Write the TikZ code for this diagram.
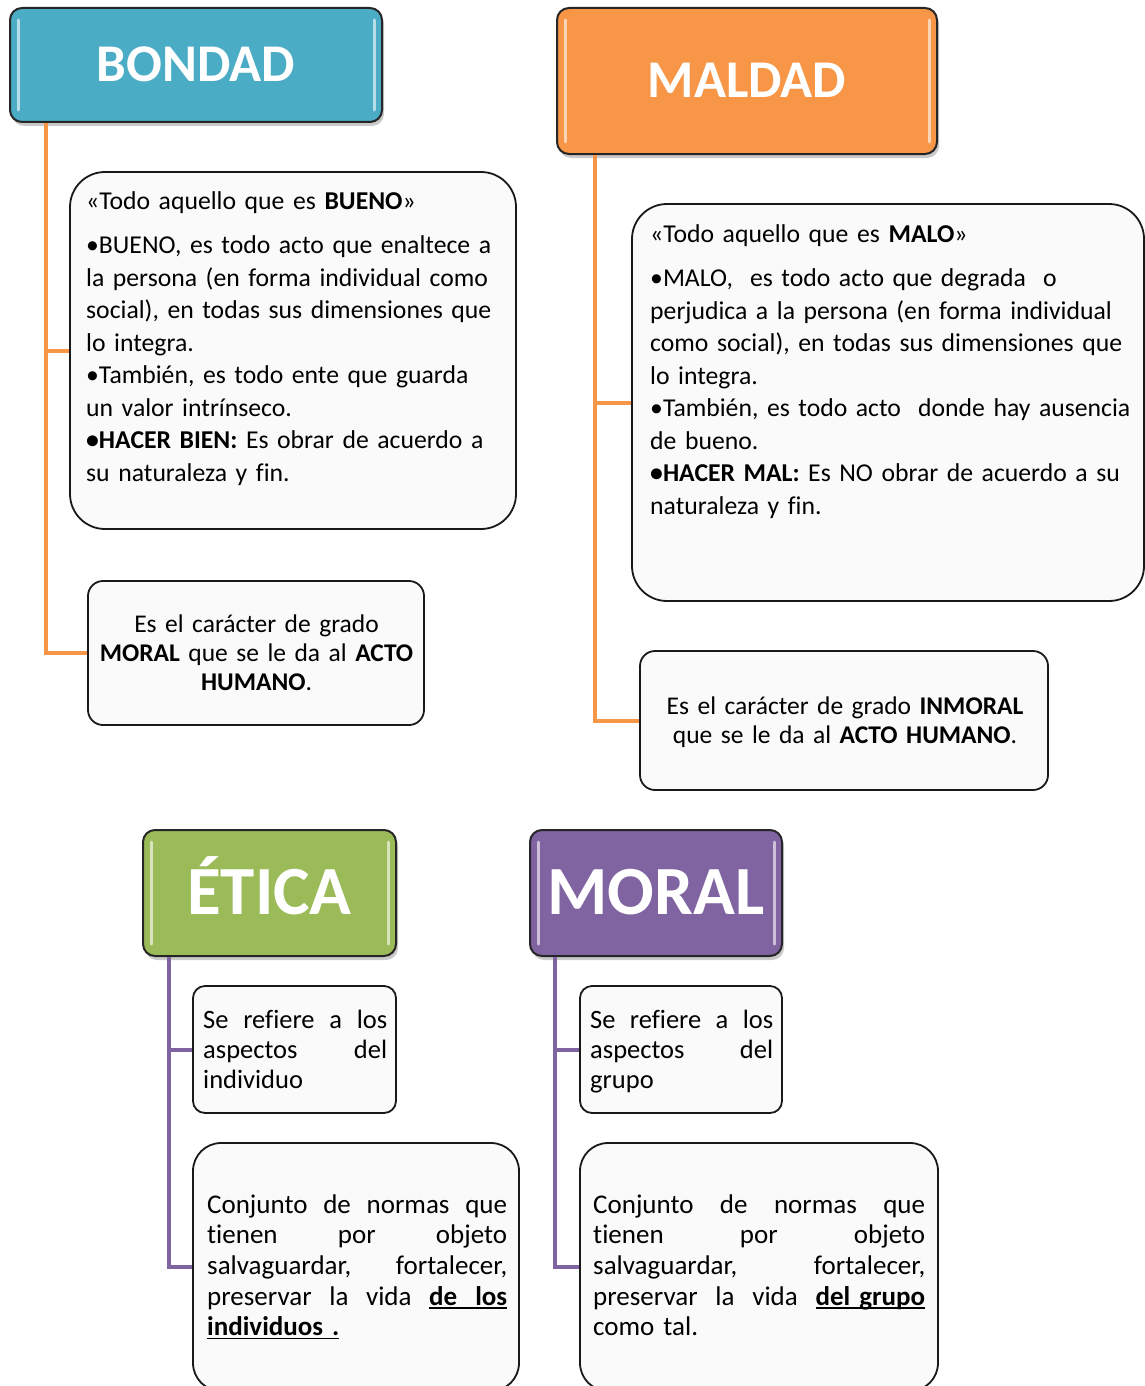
\documentclass[tikz,border=0pt]{standalone}
\usepackage{fontspec}
\setmainfont{Carlito}[Ligatures={NoCommon}]
\usetikzlibrary{shadows}
\definecolor{cblue}{HTML}{4BACC6}
\definecolor{corange}{HTML}{F79646}
\definecolor{cgreen}{HTML}{9BBB59}
\definecolor{cpurple}{HTML}{8064A2}
\definecolor{boxfill}{HTML}{FAFAFA}
\newcommand{\uln}[1]{\leavevmode\setbox0\hbox{#1}\rlap{\rule[-3.5pt]{\wd0}{1.6pt}}\box0}
\newcommand{\jline}[2]{\leavevmode\hbox to #1{#2}}
\begin{document}
\begin{tikzpicture}[x=1pt,y=-1pt,
  hdr/.style={draw=black!85, line width=2pt, rounded corners=12pt, text=white,
    drop shadow={shadow xshift=2pt, shadow yshift=-4pt, opacity=0.35, fill=black!60}},
  hdrsmall/.style={hdr, font=\fontsize{53}{60}\selectfont\bfseries, text height=33.2pt, text depth=0pt},
  hdrbig/.style={hdr, font=\fontsize{69}{76}\selectfont\bfseries, text height=43pt, text depth=0pt},
  strip/.style={line width=3pt, white, opacity=0.6, line cap=round},
  tbox/.style={draw=black!90, line width=1.8pt, fill=boxfill},
  txt/.style={inner sep=0pt, anchor=base west, align=left},
  bigfont/.style={font=\fontsize{25.7}{32.5}\selectfont},
  midfont/.style={font=\fontsize{25.5}{29.3}\selectfont},
  smfont/.style={font=\fontsize{26.5}{30}\selectfont},
  lgfont/.style={font=\fontsize{27}{30.7}\selectfont},
  oline/.style={draw=corange, line width=4pt},
  pline/.style={draw=cpurple, line width=4pt}]
\useasboundingbox (0,0) rectangle (1145,1386);

% header boxes
\node[hdrsmall, fill=cblue, minimum width=372pt, minimum height=114pt] (bondad) at (196,65) {BONDAD};
\node[hdrsmall, fill=corange, minimum width=380pt, minimum height=146pt] (maldad) at (747,81) {MALDAD};
\node[hdrbig, fill=cgreen, minimum width=253pt, minimum height=126pt] (etica) at (269.5,893) {ÉTICA};
\node[hdrbig, fill=cpurple, minimum width=252pt, minimum height=126pt] (moral) at (656,893) {MORAL};

\foreach \n in {bondad,maldad,etica,moral}{
  \draw[strip] ([xshift=9pt,yshift=-13pt]\n.north west) -- ([xshift=9pt,yshift=13pt]\n.south west);
  \draw[strip] ([xshift=-9pt,yshift=-13pt]\n.north east) -- ([xshift=-9pt,yshift=13pt]\n.south east);
}

% text boxes
\node[tbox, rounded corners=35pt, minimum width=446pt, minimum height=357pt] (b1) at (293,350.5) {};
\node[tbox, rounded corners=15pt, minimum width=336pt, minimum height=144pt] (b2) at (256,653) {};
\node[tbox, rounded corners=35pt, minimum width=512pt, minimum height=397pt] (m1) at (888,402.5) {};
\node[tbox, rounded corners=15pt, minimum width=408pt, minimum height=139pt] (m2) at (844,720.5) {};
\node[tbox, rounded corners=12pt, minimum width=203pt, minimum height=127pt] (e1) at (294.5,1049.5) {};
\node[tbox, rounded corners=28pt, minimum width=326pt, minimum height=248pt] (e2) at (356,1267) {};
\node[tbox, rounded corners=12pt, minimum width=202pt, minimum height=127pt] (mo1) at (681,1049.5) {};
\node[tbox, rounded corners=28pt, minimum width=358pt, minimum height=248pt] (mo2) at (759,1267) {};

% connectors
\draw[oline] ([xshift=37pt]bondad.south west) |- (b1.west);
\draw[oline] ([xshift=37pt]bondad.south west) |- (b2.west);
\draw[oline] ([xshift=39pt]maldad.south west) |- (m1.west);
\draw[oline] ([xshift=39pt]maldad.south west) |- (m2.west);
\draw[pline] ([xshift=27pt]etica.south west) |- (e1.west);
\draw[pline] ([xshift=27pt]etica.south west) |- (e2.west);
\draw[pline] ([xshift=26pt]moral.south west) |- (mo1.west);
\draw[pline] ([xshift=26pt]moral.south west) |- (mo2.west);

% texts
\node[txt, bigfont, text width=520pt] (b1t) at (86,209.5) {%
«Todo aquello que es \textbf{BUENO}»\\[11.5pt]
•BUENO, es todo acto que enaltece a\\
la persona (en forma individual como\\
social), en todas sus dimensiones que\\
lo integra.\\
•También, es todo ente que guarda\\
un valor intrínseco.\\
\textbf{•HACER BIEN:} Es obrar de acuerdo a\\
su naturaleza y fin.};

\node[txt, bigfont, text width=600pt] (m1t) at (650,242.5) {%
«Todo aquello que es \textbf{MALO}»\\[11.5pt]
•MALO, \ es todo acto que degrada \ o\\
perjudica a la persona (en forma individual\\
como social), en todas sus dimensiones que\\
lo integra.\\
•También, es todo acto \ donde hay ausencia\\
de bueno.\\
\textbf{•HACER MAL:} Es NO obrar de acuerdo a su\\
naturaleza y fin.};

\node[txt, midfont, text width=330pt, align=center, anchor=base] (b2t) at (256.5,632) {%
Es el carácter de grado\\
\textbf{MORAL} que se le da al \textbf{ACTO}\\
\textbf{HUMANO}.};

\node[txt, midfont, text width=400pt, align=center, anchor=base] (m2t) at (845,714) {%
Es el carácter de grado \textbf{INMORAL}\\
que se le da al \textbf{ACTO HUMANO}.};

\node[txt, smfont, text width=184pt] (e1t) at (203,1028) {%
\jline{184pt}{Se\hfill refiere\hfill a\hfill los}\\
\jline{184pt}{aspectos\hfill del}\\
individuo};

\node[txt, smfont, text width=183pt] (mo1t) at (590,1028) {%
\jline{183pt}{Se\hfill refiere\hfill a\hfill los}\\
\jline{183pt}{aspectos\hfill del}\\
grupo};

\node[txt, lgfont, text width=300pt] (e2t) at (207,1213) {%
\jline{300pt}{Conjunto\hfill de\hfill normas\hfill que}\\
\jline{300pt}{tienen\hfill por\hfill objeto}\\
\jline{300pt}{salvaguardar,\hfill fortalecer,}\\
\jline{300pt}{preservar\hfill la\hfill vida\hfill \uln{\textbf{de\ \ los}}}\\
\uln{\textbf{individuos .}}};

\node[txt, lgfont, text width=332pt] (mo2t) at (593,1213) {%
\jline{332pt}{Conjunto\hfill de\hfill normas\hfill que}\\
\jline{332pt}{tienen\hfill por\hfill objeto}\\
\jline{332pt}{salvaguardar,\hfill fortalecer,}\\
\jline{332pt}{preservar\hfill la\hfill vida\hfill \uln{\textbf{del\ grupo}}}\\
como tal.};
\end{tikzpicture}
\end{document}
